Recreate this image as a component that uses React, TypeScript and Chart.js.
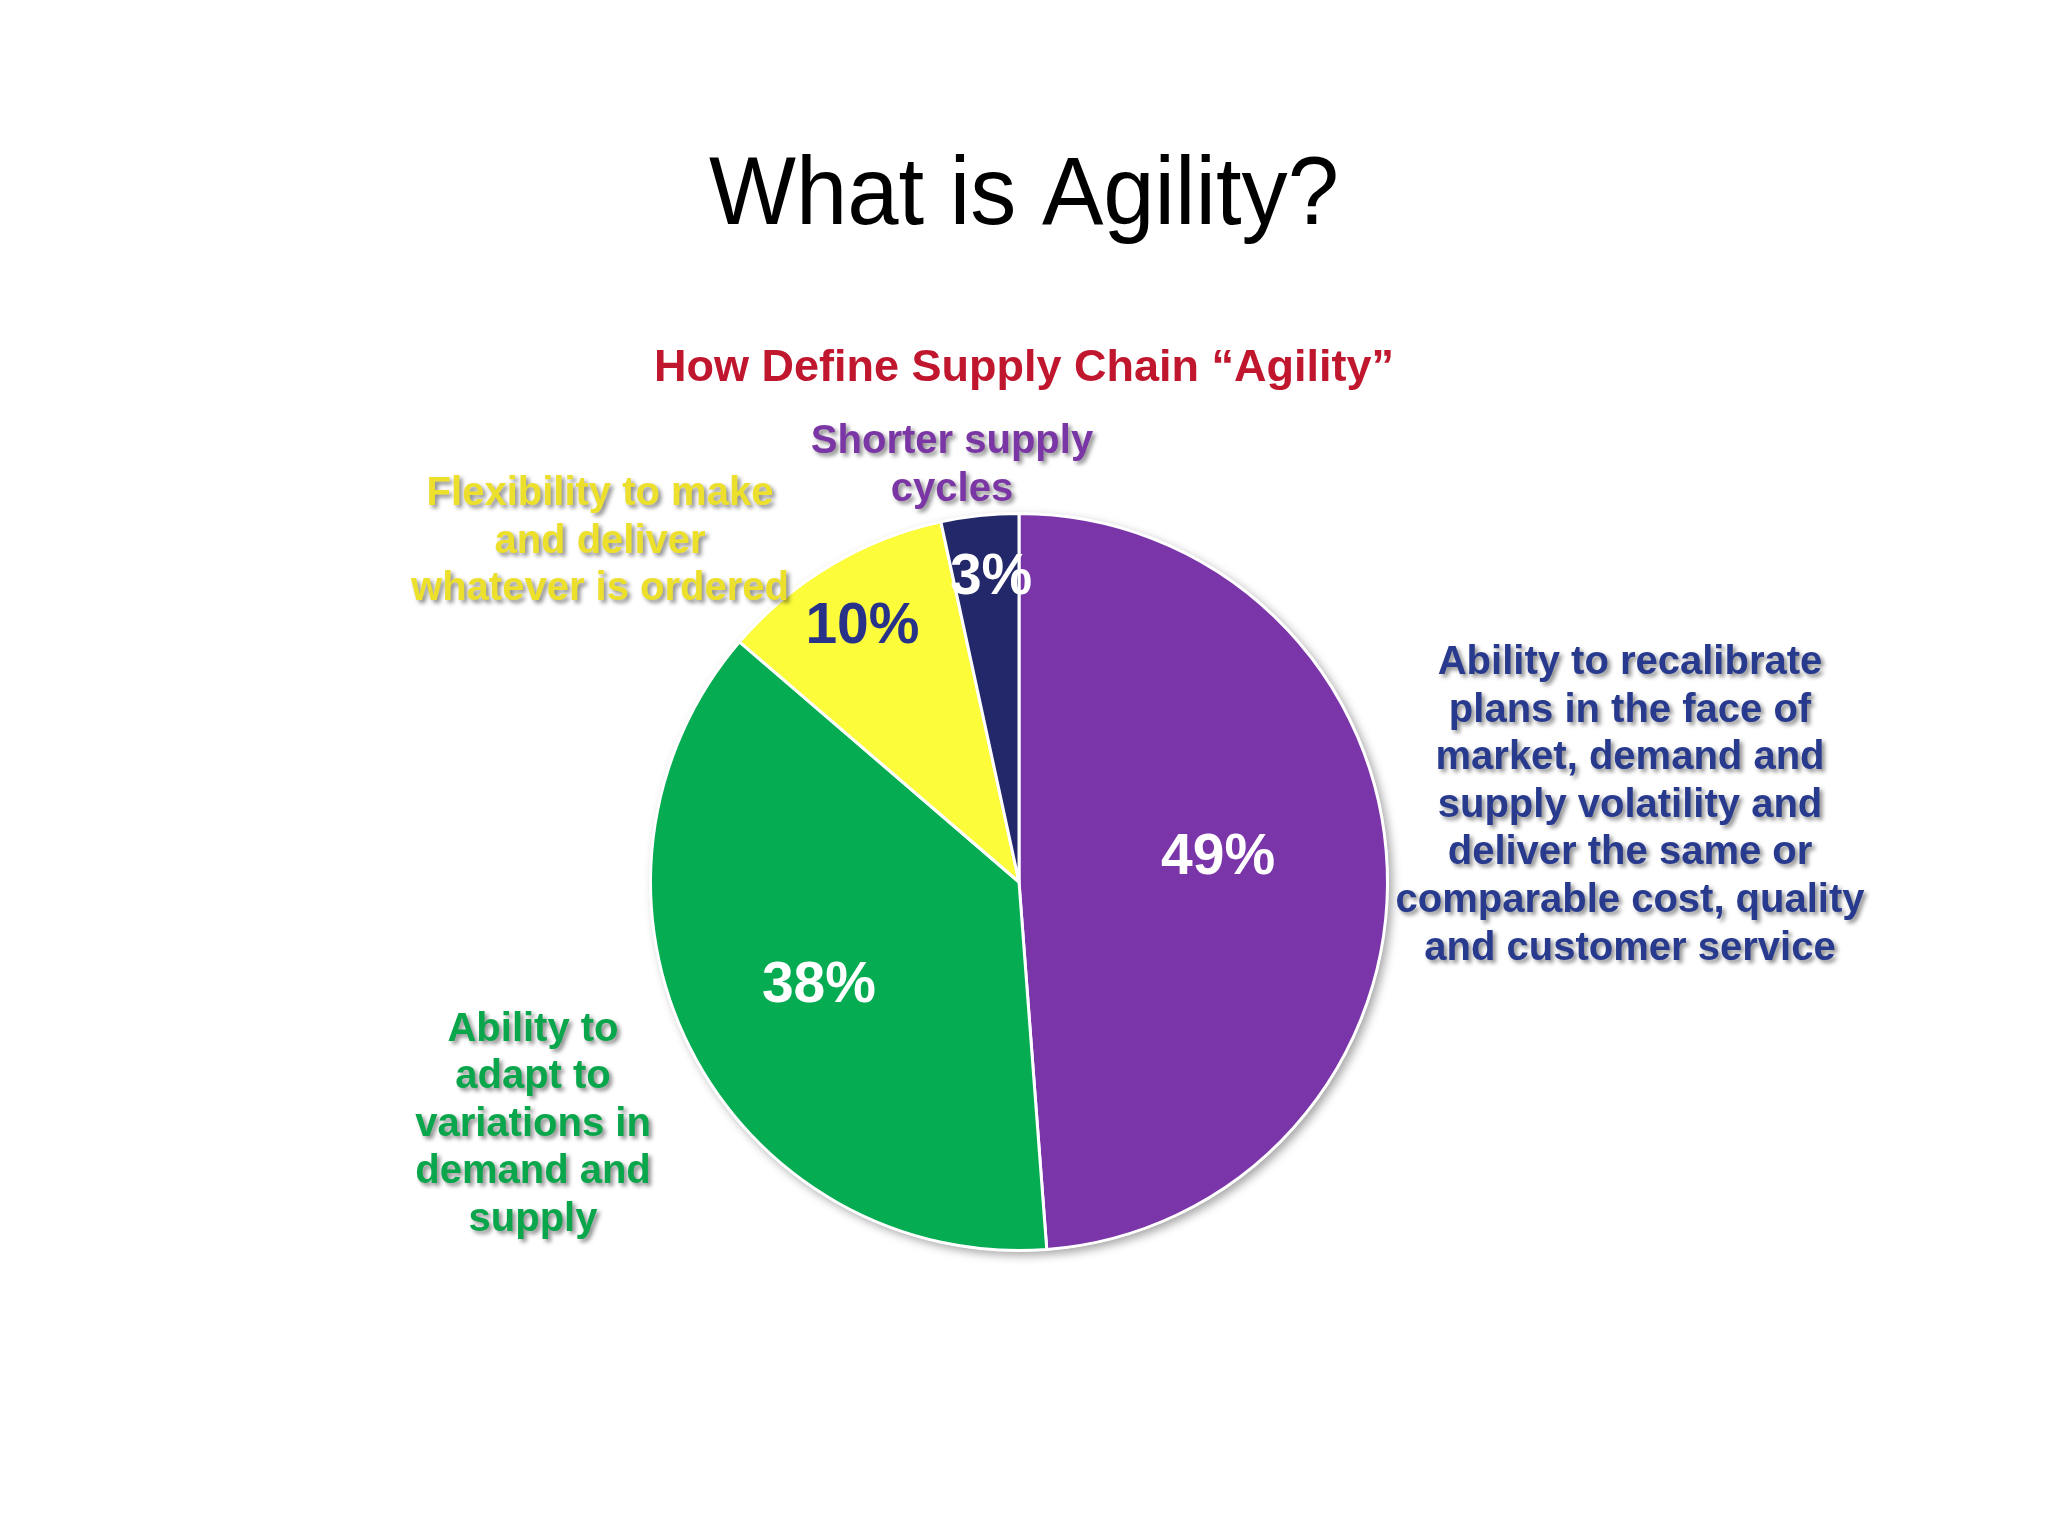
import React, { useEffect, useRef } from "react";
import { Chart, registerables } from "chart.js";

Chart.register(...registerables);

// ---- Data ----
const title = "What is Agility?";
const subtitle = "How Define Supply Chain “Agility”";
const categories = [
  "Ability to recalibrate plans in the face of market, demand and supply volatility and deliver the same or comparable cost, quality and customer service",
  "Ability to adapt to variations in demand and supply",
  "Flexibility to make and deliver whatever is ordered",
  "Shorter supply cycles",
];
const categoryLines = [
  [
    "Ability to recalibrate",
    "plans in the face of",
    "market, demand and",
    "supply volatility and",
    "deliver the same or",
    "comparable cost, quality",
    "and customer service",
  ],
  ["Ability to", "adapt to", "variations in", "demand and", "supply"],
  ["Flexibility to make", "and deliver", "whatever is ordered"],
  ["Shorter supply", "cycles"],
];
// slice sizes as drawn in the picture (labels show the rounded figures)
const values = [48.8, 37.5, 10.3, 3.4];
const valueLabels = ["49%", "38%", "10%", "3%"];

// ---- Styles ----
const FONT = '"Liberation Sans", Arial, Helvetica, sans-serif';
const sliceColors = ["#7A35A9", "#05AC52", "#FDFC3A", "#22286A"];
const categoryColors = ["#283A8E", "#0AA64B", "#EDE02C", "#7B36A6"];
const valueColors = ["#FFFFFF", "#FFFFFF", "#283289", "#FFFFFF"];
// value label placement: fraction of radius, angle tweak (deg) from slice middle
const valuePlacement = [
  { r: 0.545, d: -5.3 },
  { r: 0.61, d: -0.3 },
  { r: 0.816, d: -0.6 },
  { r: 0.833, d: 0.9 },
];
// category label anchor: offset of first line centre from pie centre (px)
const categoryAnchor = [
  { dx: 611, dy: -219 },
  { dx: -486, dy: 147.5 },
  { dx: -419, dy: -388 },
  { dx: -67, dy: -440 },
];
const LINE_H = 47.6;

const textPlugin = {
  id: "agilityText",
  beforeDatasetsDraw(chart: any) {
    const ctx = chart.ctx;
    const arc = chart.getDatasetMeta(0).data[0];
    if (!arc) return;
    const { x, y, outerRadius } = arc.getProps(["x", "y", "outerRadius"], true);
    ctx.save();
    ctx.shadowColor = "rgba(0,0,0,0.35)";
    ctx.shadowBlur = 10;
    ctx.shadowOffsetX = 4;
    ctx.shadowOffsetY = 4;
    ctx.beginPath();
    ctx.arc(x, y, outerRadius + 1, 0, Math.PI * 2);
    ctx.fillStyle = "#ffffff";
    ctx.fill();
    ctx.restore();
  },
  afterDraw(chart: any) {
    const ctx = chart.ctx;
    const meta = chart.getDatasetMeta(0);
    const first = meta.data[0];
    if (!first) return;
    const { x: cx, y: cy } = first.getProps(["x", "y"], true);
    const W = chart.width;

    // main title
    ctx.save();
    ctx.fillStyle = "#000000";
    ctx.font = `97px ${FONT}`;
    ctx.textAlign = "center";
    ctx.textBaseline = "alphabetic";
    ctx.translate(W / 2, 224);
    ctx.scale(0.95, 1);
    ctx.fillText(title, 0, 0);
    ctx.restore();

    // subtitle
    ctx.save();
    ctx.fillStyle = "#C0172F";
    ctx.font = `bold 45px ${FONT}`;
    ctx.textAlign = "center";
    ctx.textBaseline = "alphabetic";
    ctx.fillText(subtitle, W / 2, 381);
    ctx.restore();

    // category labels
    ctx.save();
    ctx.font = `bold 40px ${FONT}`;
    ctx.textAlign = "center";
    ctx.textBaseline = "middle";
    ctx.shadowColor = "rgba(0,0,0,0.45)";
    ctx.shadowBlur = 4;
    ctx.shadowOffsetX = 3;
    ctx.shadowOffsetY = 3;
    categoryLines.forEach((lines, i) => {
      ctx.fillStyle = categoryColors[i];
      const a = categoryAnchor[i];
      lines.forEach((ln, j) => {
        ctx.fillText(ln, cx + a.dx, cy + a.dy + j * LINE_H);
      });
    });
    ctx.restore();

    // value labels
    ctx.save();
    ctx.font = `bold 57px ${FONT}`;
    ctx.textAlign = "center";
    ctx.textBaseline = "middle";
    meta.data.forEach((el: any, i: number) => {
      const p = el.getProps(["startAngle", "endAngle", "outerRadius"], true);
      const ang = (p.startAngle + p.endAngle) / 2 + (valuePlacement[i].d * Math.PI) / 180;
      const r = p.outerRadius * valuePlacement[i].r;
      ctx.fillStyle = valueColors[i];
      ctx.fillText(valueLabels[i], cx + r * Math.cos(ang), cy + r * Math.sin(ang) + 2);
    });
    ctx.restore();
  },
};

export default function App() {
  const ref = useRef<HTMLCanvasElement | null>(null);
  useEffect(() => {
    document.body.style.margin = "0";
    document.body.style.background = "#ffffff";
    if (!ref.current) return;
    const chart = new Chart(ref.current, {
      type: "pie",
      data: {
        labels: categories,
        datasets: [
          {
            data: values,
            backgroundColor: sliceColors,
            borderColor: "#ffffff",
            borderWidth: 3,
          },
        ],
      },
      options: {
        responsive: false,
        animation: false,
        devicePixelRatio: 1,
        layout: { padding: { top: 512, bottom: 284, left: 0, right: 10 } },
        plugins: {
          legend: { display: false },
          tooltip: { enabled: false },
          title: { display: false },
        },
      },
      plugins: [textPlugin],
    });
    return () => chart.destroy();
  }, []);
  return (
    <div style={{ width: 2048, height: 1536, background: "#ffffff" }}>
      <canvas ref={ref} width={2048} height={1536} />
    </div>
  );
}
